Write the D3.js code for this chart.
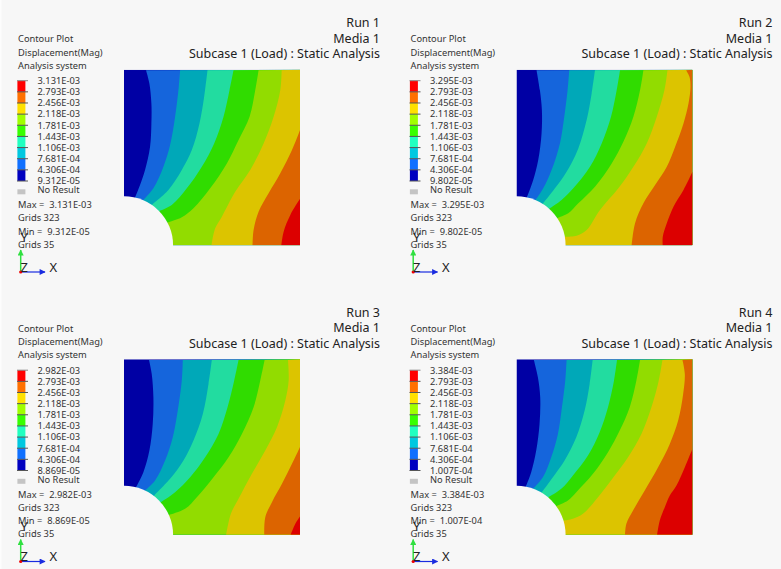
<!DOCTYPE html>
<html lang="en">
  <head>
    <meta charset="utf-8" />
    <title>Contour plots</title>
    <script src="https://d3js.org/d3.v7.min.js"></script>
    <style>
      html, body { margin: 0; padding: 0; background: #f7f7f7; }
      svg { display: block; }
      text { font-family: "Noto Sans", sans-serif; fill: #333; white-space: pre; }
      .legend text { font-size: 9.3px; }
      .title text { font-size: 12.5px; text-anchor: end; fill: #222; }
      .triad text { font-size: 13px; fill: #222; }
    </style>
  </head>
  <body>
    <svg width="781" height="569"></svg>
    <script>
      // run names, one per panel
      var runs = ["Run 1", "Run 2", "Run 3", "Run 4"];
      var media = "Media 1";
      var subcase = "Subcase 1 (Load) : Static Analysis";
      var heading = ["Contour Plot", "Displacement(Mag)", "Analysis system"];

      // legend levels, only first and last change between runs
      var middleLevels = ["2.793E-03", "2.456E-03", "2.118E-03", "1.781E-03", "1.443E-03", "1.106E-03", "7.681E-04", "4.306E-04"];
      var maxLabels = ["3.131E-03", "3.295E-03", "2.982E-03", "3.384E-03"];
      var minLabels = ["9.312E-05", "9.802E-05", "8.869E-05", "1.007E-04"];
      var gridsMax = ["Grids 323", "Grids 323", "Grids 323", "Grids 323"];
      var gridsMin = ["Grids 35", "Grids 35", "Grids 35", "Grids 35"];

      // colours low to high
      var plateColors = ["#0000a4", "#1565dc", "#00a8b8", "#22dca0", "#30dc00", "#92dc00", "#dcc400", "#dc6400", "#dc0000"];
      var legendColors = ["#0000c0", "#1070ff", "#00c8e0", "#20ffc0", "#38ff00", "#a0ff00", "#ffe000", "#ff7000", "#ff0000"];

      // iso-lines per run in plate units, x from hole side, y up from bottom edge
      var run1Lines = [
        [[66,526],[76,486],[82,426],[82,366],[78,296],[63,226],[48,181],[33,143]],
        [[168,526],[164,476],[153,386],[138,301],[118,236],[88,171],[58,136]],
        [[250,526],[240,446],[226,366],[203,286],[173,226],[133,166],[86,124]],
        [[328,526],[316,466],[298,386],[270,306],[233,236],[188,171],[143,121],[108,104]],
        [[403,526],[393,466],[376,386],[343,316],[308,246],[258,171],[208,111],[173,84],[133,69]],
        [[472,526],[468,466],[448,386],[418,306],[378,226],[333,161],[293,86],[273,51],[262,0]],
        [[528,349],[503,286],[468,216],[433,156],[403,101],[388,46],[385,0]],
        [[528,141],[498,91],[478,41],[471,0]]
      ];
      var run2Lines = [
        [[60,526],[70,466],[76,406],[75,336],[65,256],[50,196],[31,144]],
        [[158,526],[153,466],[143,386],[130,306],[105,226],[80,171],[57,136]],
        [[235,526],[225,456],[210,376],[185,291],[150,221],[115,171],[80,126]],
        [[310,526],[300,466],[283,386],[255,306],[220,236],[170,171],[135,136],[100,111]],
        [[380,526],[370,466],[350,386],[320,311],[285,246],[235,176],[185,126],[155,96],[125,83]],
        [[452,526],[443,466],[420,386],[390,306],[350,236],[305,171],[250,106],[210,46],[180,29],[145,26]],
        [[508,526],[518,506],[521,476],[515,426],[500,366],[475,296],[450,236],[415,181],[380,126],[355,66],[345,0]],
        [[527,221],[500,166],[470,116],[450,66],[438,26],[438,0]]
      ];
      var run3Lines = [
        [[75,525],[83,483],[88,413],[86,333],[76,253],[58,188],[36,143]],
        [[176,525],[173,463],[161,373],[146,293],[123,223],[93,163],[63,133]],
        [[263,525],[253,453],[236,363],[208,283],[178,223],[138,168],[93,121]],
        [[343,525],[330,463],[310,383],[283,303],[243,233],[198,173],[153,128],[110,98]],
        [[421,525],[408,463],[388,383],[353,303],[313,233],[268,173],[218,113],[183,78],[136,60]],
        [[491,525],[493,463],[483,403],[458,323],[423,253],[383,183],[343,108],[320,63],[306,0]],
        [[528,266],[503,213],[473,153],[443,98],[423,53],[420,0]],
        [[528,56],[513,33],[499,0]]
      ];
      var run4Lines = [
        [[52,525],[64,473],[71,413],[69,333],[59,253],[44,188],[27,143]],
        [[150,525],[146,463],[136,383],[124,303],[104,233],[79,173],[49,138]],
        [[228,525],[219,453],[204,373],[179,293],[144,223],[109,173],[76,128]],
        [[301,525],[292,463],[274,383],[249,308],[214,238],[169,178],[134,138],[96,113]],
        [[370,525],[359,463],[339,383],[309,313],[274,248],[229,183],[179,128],[154,103],[121,87]],
        [[437,525],[426,463],[404,383],[374,303],[334,233],[294,178],[244,113],[199,63],[169,48],[144,43]],
        [[497,525],[504,483],[499,423],[484,343],[459,273],[424,203],[384,133],[349,73],[329,33],[325,0]],
        [[526,256],[504,203],[479,148],[459,118],[444,83],[429,43],[421,0]]
      ];
      var allLines = [run1Lines, run2Lines, run3Lines, run4Lines];

      var plateSize = 527;
      var holeRadius = 147;

      var svg = d3.select("svg");
      var defs = svg.append("defs");

      // lighter strip down the left side of the screenshot
      svg.append("rect")
        .attr("width", 1.5).attr("height", 569)
        .attr("fill", "#fdfdfd");

      // arrow heads of the triad
      function arrowHead(id, color) {
        defs.append("marker")
          .attr("id", id)
          .attr("viewBox", "0 0 10 10")
          .attr("refX", 9).attr("refY", 5)
          .attr("markerWidth", 9).attr("markerHeight", 6)
          .attr("markerUnits", "userSpaceOnUse")
          .attr("orient", "auto")
          .append("path")
          .attr("d", "M0,0L10,5L0,10Z")
          .attr("fill", color);
      }
      arrowHead("arrowGreen", "#30e040");
      arrowHead("arrowBlue", "#1a2ce0");

      runs.forEach(function(run, i) {
        var col = i % 2, row = Math.floor(i / 2);
        var dx = col * 392.5, dy = row * 289.5;
        var panel = svg.append("g").attr("transform", "translate(" + dx + "," + dy + ")");
        drawTitle(panel, run);
        drawLegend(panel, i);
        drawPlate(panel, i);
        drawTriad(panel);
      });

      function drawTitle(panel, run) {
        var g = panel.append("g").attr("class", "title");
        g.selectAll("text")
          .data([run, media, subcase])
          .enter().append("text")
          .attr("x", 380)
          .attr("y", function(d, k) { return 27 + k * 15.5; })
          .text(function(d) { return d; });
      }

      function drawLegend(panel, i) {
        var g = panel.append("g").attr("class", "legend");
        var levels = [maxLabels[i]].concat(middleLevels, [minLabels[i]]);

        g.selectAll(".heading")
          .data(heading)
          .enter().append("text")
          .attr("class", "heading")
          .attr("x", 18)
          .attr("y", function(d, k) { return 42.3 + k * 13.3; })
          .text(function(d) { return d; });

        var yLevel = d3.scalePoint().domain(levels).range([80.7, 181]);

        // colour bands between two levels, highest on top
        var bands = legendColors.slice().reverse();
        g.selectAll(".band")
          .data(bands)
          .enter().append("rect")
          .attr("class", "band")
          .attr("x", 17.4)
          .attr("width", 8)
          .attr("y", function(d, k) { return yLevel(levels[k]); })
          .attr("height", function(d, k) { return yLevel(levels[k + 1]) - yLevel(levels[k]); })
          .attr("fill", function(d) { return d; });

        g.selectAll(".tick")
          .data(levels)
          .enter().append("line")
          .attr("class", "tick")
          .attr("x1", 17).attr("x2", 28)
          .attr("y1", function(d) { return yLevel(d); })
          .attr("y2", function(d) { return yLevel(d); })
          .attr("stroke", function(d, k) { return k == 0 ? "#888" : "#555"; })
          .attr("stroke-width", 1);

        g.selectAll(".level")
          .data(levels)
          .enter().append("text")
          .attr("class", "level")
          .attr("x", 37.5)
          .attr("y", function(d) { return yLevel(d) + 3.3; })
          .text(function(d) { return d; });

        g.append("rect")
          .attr("x", 17.4).attr("y", 189.3)
          .attr("width", 8).attr("height", 5)
          .attr("fill", "#c4c4c4");
        g.append("text").attr("x", 37.5).attr("y", 193.3).text("No Result");

        var summary = ["Max =  " + maxLabels[i], gridsMax[i], "Min =  " + minLabels[i], gridsMin[i]];
        g.selectAll(".summary")
          .data(summary)
          .enter().append("text")
          .attr("class", "summary")
          .attr("x", 18)
          .attr("y", function(d, k) { return 208.3 + k * 13.1; })
          .text(function(d) { return d; });
      }

      function drawPlate(panel, i) {
        var x = d3.scaleLinear().domain([0, plateSize]).range([124, 300]);
        var y = d3.scaleLinear().domain([0, plateSize]).range([245.3, 69.8]);
        var clipId = "plate" + i;

        defs.append("clipPath").attr("id", clipId)
          .append("rect")
          .attr("x", x(0)).attr("y", y(plateSize))
          .attr("width", x(plateSize) - x(0))
          .attr("height", y(0) - y(plateSize));

        // same rectangle, one pixel wider on the hole side
        defs.append("clipPath").attr("id", clipId + "hole")
          .append("rect")
          .attr("x", x(0) - 1).attr("y", y(plateSize))
          .attr("width", x(plateSize) - x(0) + 1)
          .attr("height", y(0) - y(plateSize) + 1);

        var g = panel.append("g").attr("clip-path", "url(#" + clipId + ")");

        g.append("rect")
          .attr("x", x(0)).attr("y", y(plateSize))
          .attr("width", x(plateSize) - x(0))
          .attr("height", y(0) - y(plateSize))
          .attr("fill", plateColors[0]);

        var line = d3.line()
          .x(function(d) { return x(d[0]); })
          .y(function(d) { return y(d[1]); })
          .curve(d3.curveCatmullRom.alpha(0.5));

        // each level paints everything on its high side, lower right corner included
        allLines[i].forEach(function(pts, k) {
          var last = pts[pts.length - 1];
          var closing = [];
          if (last[1] > 0) closing.push([0, 0]);
          closing.push([plateSize, 0], [plateSize, plateSize]);
          var d = line(pts) + closing.map(function(p) {
            return "L" + x(p[0]) + "," + y(p[1]);
          }).join("") + "Z";
          g.append("path").attr("d", d).attr("fill", plateColors[k + 1]);
        });

        // hole in the lower left corner
        panel.append("ellipse")
          .attr("clip-path", "url(#" + clipId + "hole)")
          .attr("cx", x(0)).attr("cy", y(0))
          .attr("rx", x(holeRadius) - x(0))
          .attr("ry", y(0) - y(holeRadius))
          .attr("fill", "#f7f7f7");
      }

      function drawTriad(panel) {
        var g = panel.append("g").attr("class", "triad");
        g.append("line")
          .attr("x1", 20.7).attr("y1", 272).attr("x2", 20.7).attr("y2", 250)
          .attr("stroke", "#30e040").attr("stroke-width", 1.5)
          .attr("marker-end", "url(#arrowGreen)");
        g.append("line")
          .attr("x1", 20.7).attr("y1", 272).attr("x2", 45).attr("y2", 272)
          .attr("stroke", "#1a2ce0").attr("stroke-width", 1.2)
          .attr("marker-end", "url(#arrowBlue)");
        g.append("circle")
          .attr("cx", 20.7).attr("cy", 272).attr("r", 1.6)
          .attr("fill", "#f00000");
        g.append("text").attr("x", 20.5).attr("y", 241.5).text("Y");
        g.append("text").attr("x", 20.5).attr("y", 271.5).text("Z");
        g.append("text").attr("x", 49.5).attr("y", 271.5).text("X");
      }
    </script>
  </body>
</html>
